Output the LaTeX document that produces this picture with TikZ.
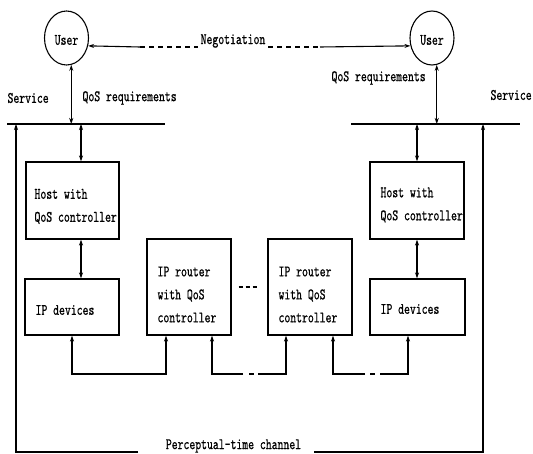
\documentclass[tikz,border=0pt]{standalone}
\usepackage{fontspec}
\newfontfamily\tf{lmmono10-regular}[Extension=.otf,FakeStretch=0.7,FakeBold=0.6]
\usetikzlibrary{shapes.geometric,arrows.meta}
\begin{document}
\begin{tikzpicture}[x=1pt,y=-1pt,line width=1.1pt,
  >={Stealth[length=6pt,width=4pt]},
  every node/.style={font=\tf\fontsize{16}{23}\selectfont},
  txt/.style={inner sep=0pt,align=left},
  box/.style={draw,line width=1.1pt,inner sep=0pt},
  usr/.style={draw,line width=1.1pt,ellipse,inner sep=0pt,minimum width=44pt,minimum height=54pt},
  dbl/.style={<->}]
\useasboundingbox (0,0) rectangle (533,454);
% users
\node[usr] (userL) at (66.5,38) {};
\node[txt] (uLt) at (66.5,40) {User};
\node[usr] (userR) at (432,38) {};
\node[txt] (uRt) at (432,40) {User};
% negotiation
\node[txt] (neg) at (233,41) {Negotiation};
\coordinate (nA) at (140,47);
\coordinate (nB) at (198,47);
\coordinate (nC) at (268,47);
\coordinate (nD) at (320,47);
\draw[<-] (userL.-20) -- (nA);
\draw[dash pattern=on 5pt off 4pt] (nA) -- (nB);
\draw[dash pattern=on 5pt off 4pt] (nC) -- (nD);
\draw[->] (nD) -- (userR.200);
% labels
\node[txt,anchor=west] (svL) at (7,98) {Service};
\node[txt,anchor=west] (qrL) at (82,98) {QoS requirements};
\node[txt,anchor=west] (qrR) at (331,78) {QoS requirements};
\node[txt,anchor=west] (svR) at (490,95) {Service};
% service lines
\coordinate (sl1) at (7,124);
\coordinate (sl2) at (165,124);
\coordinate (sr1) at (351,124);
\coordinate (sr2) at (520,124);
\draw (sl1) -- (sl2);
\draw (sr1) -- (sr2);
\draw[dbl] (userL.-80) -- (userL.-80 |- sl1);
\draw[dbl] (userR.-80) -- (userR.-80 |- sr1);
% boxes
\node[box,minimum width=93pt,minimum height=77pt] (hostL) at (72.5,200.5) {};
\node[txt,anchor=west] (hLt) at (34,206.5) {Host with\\QoS controller};
\node[box,minimum width=94pt,minimum height=56pt] (ipL) at (72,307) {};
\node[txt,anchor=west] (iLt) at (35,310) {IP devices};
\node[box,minimum width=84pt,minimum height=96pt] (r1) at (189,287) {};
\node[txt,anchor=west] (r1t) at (157,294.5) {IP router\\with QoS\\controller};
\node[box,minimum width=84pt,minimum height=96pt] (r2) at (310,287) {};
\node[txt,anchor=west] (r2t) at (278,294.5) {IP router\\with QoS\\controller};
\node[box,minimum width=94pt,minimum height=77pt] (hostR) at (417,200.5) {};
\node[txt,anchor=west] (hRt) at (380,205) {Host with\\QoS controller};
\node[box,minimum width=95pt,minimum height=56pt] (ipR) at (417.5,307) {};
\node[txt,anchor=west] (iRt) at (380,309) {IP devices};
% host arrows
\coordinate (ah) at (81,124);
\draw[dbl] (ah) -- (hostL.north -| ah);
\draw[dbl] (hostL.south -| ah) -- (ipL.north -| ah);
\coordinate (ahr) at (417,124);
\draw[dbl] (ahr) -- (hostR.north -| ahr);
\draw[dbl] (hostR.south -| ahr) -- (ipR.north -| ahr);
% router dashes
\draw[dash pattern=on 4pt off 3pt] ([xshift=7pt]r1.east) -- ([xshift=-10pt]r2.west);
% bottom loops
\coordinate (b1) at (72,374);
\coordinate (b2) at (166,374);
\draw[dbl] (ipL.south -| b1) -- (b1) -- (b2) -- (r1.south -| b2);
\coordinate (b3) at (212,374);
\coordinate (b4) at (243,374);
\coordinate (b4a) at (249,374);
\coordinate (b4b) at (254,374);
\coordinate (b5) at (258,374);
\coordinate (b6) at (286,374);
\draw[->] (b4) -- (b3) -- (r1.south -| b3);
\draw (b4a) -- (b4b);
\draw[->] (b5) -- (b6) -- (r2.south -| b6);
\coordinate (c1) at (333,374);
\coordinate (c2) at (365,374);
\coordinate (c2a) at (370,374);
\coordinate (c2b) at (375,374);
\coordinate (c3) at (380,374);
\coordinate (c4) at (408,374);
\draw[->] (c2) -- (c1) -- (r2.south -| c1);
\draw (c2a) -- (c2b);
\draw[->] (c3) -- (c4) -- (ipR.south -| c4);
% perceptual-time channel
\node[txt] (perc) at (233.5,446) {Perceptual-time channel};
\coordinate (pl) at (138,452);
\coordinate (pr) at (314,452);
\coordinate (ol) at (16,124);
\coordinate (or) at (483,124);
\draw[->] (pl) -| (ol);
\draw[->] (pr) -| (or);
\end{tikzpicture}
\end{document}
